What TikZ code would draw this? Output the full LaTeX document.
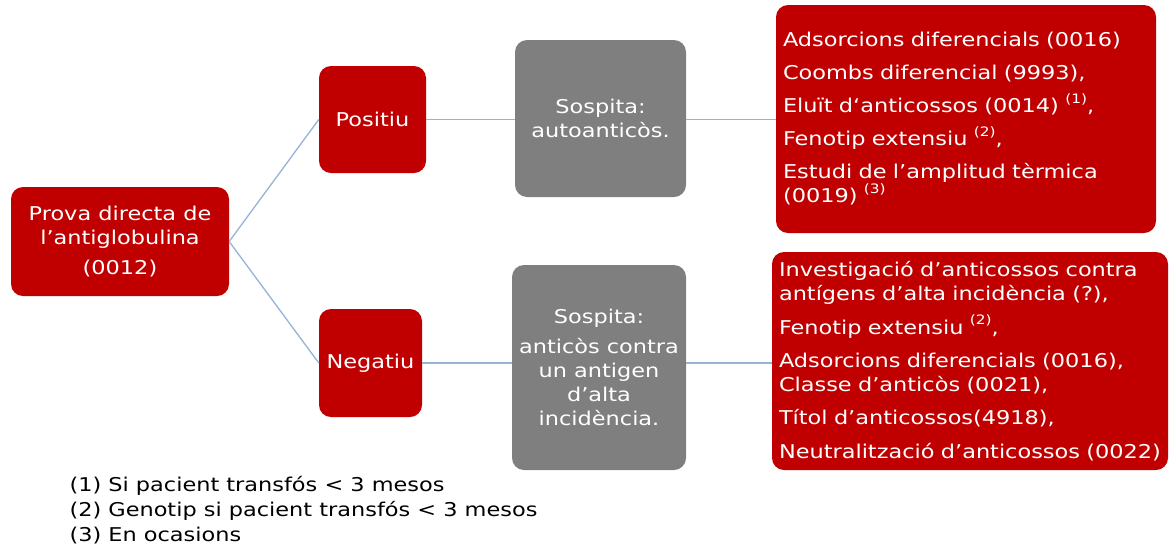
\documentclass[tikz,border=0pt]{standalone}
\usepackage{fontspec}
\setmainfont{DejaVu Sans}[FakeStretch=1.18]
\usepackage{xcolor}
\definecolor{boxred}{RGB}{192,0,0}
\definecolor{boxgray}{RGB}{127,127,127}
\definecolor{linkblue}{RGB}{149,179,215}
\newcommand{\nota}[1]{\raisebox{0.5em}{\fontsize{13}{13}\selectfont(#1)}}

\begin{document}
\begin{tikzpicture}[x=1pt, y=-1pt,
        every node/.style={font=\fontsize{19}{24}\selectfont},
        redbox/.style={fill=boxred, text=white, rounded corners=12pt, inner sep=0pt, align=center},
        graybox/.style={fill=boxgray, text=white, rounded corners=12pt, inner sep=0pt, align=center},
        listbox/.style={redbox, align=left, inner xsep=7pt},
        link/.style={linkblue, line width=1.3pt}]
        \useasboundingbox (0,0) rectangle (1176,550);

        % arbre
        \node[redbox, minimum width=218, minimum height=109] (pda) at (120,241.5) {Prova directa de\\l’antiglobulina\\[6pt](0012)};
        \node[redbox, minimum width=107, minimum height=107] (pos) at (372.5,119.5) {Positiu};
        \node[redbox, minimum width=103, minimum height=108] (neg) at (370.5,363) {Negatiu};

        \node[graybox, minimum width=171, minimum height=157] (sauto) at (600.5,118.5) {Sospita:\\autoanticòs.};
        \node[graybox, minimum width=174, minimum height=205] (salta) at (599,367.5) {Sospita:\\[6pt]anticòs contra\\un antigen\\d’alta\\incidència.};

        \node[listbox, text width=366, minimum height=228] (lauto) at (966,119) {Adsorcions diferencials (0016)\\[9pt]Coombs diferencial (9993),\\[9pt]Eluït d‘anticossos (0014) \nota{1},\\[9pt]Fenotip extensiu \nota{2},\\[9pt]Estudi de l’amplitud tèrmica\\(0019) \nota{3}};
        \node[listbox, text width=382, minimum height=218] (lalta) at (970,361) {Investigació d’anticossos contra\\antígens d’alta incidència (?),\\[10pt]Fenotip extensiu \nota{2},\\[9pt]Adsorcions diferencials (0016),\\Classe d’anticòs (0021),\\[9pt]Títol d’anticossos(4918),\\[10pt]Neutralització d’anticossos (0022)};

        \draw[link] (pda.east) -- (pos.west);
        \draw[link] (pda.east) -- (neg.west);
        \draw[link] (pos.east) -- (pos.east -| sauto.west);
        \draw[link] (sauto.east |- pos.east) -- (lauto.west |- pos.east);
        \draw[link] (neg.east) -- (neg.east -| salta.west);
        \draw[link] (salta.east |- neg.east) -- (lalta.west |- neg.east);

        % notes
        \node[anchor=west, align=left, font=\fontsize{19}{25}\selectfont] (notes) at (66,510) {(1) Si pacient transfós < 3 mesos\\(2) Genotip si pacient transfós < 3 mesos\\(3) En ocasions};
\end{tikzpicture}
\end{document}
